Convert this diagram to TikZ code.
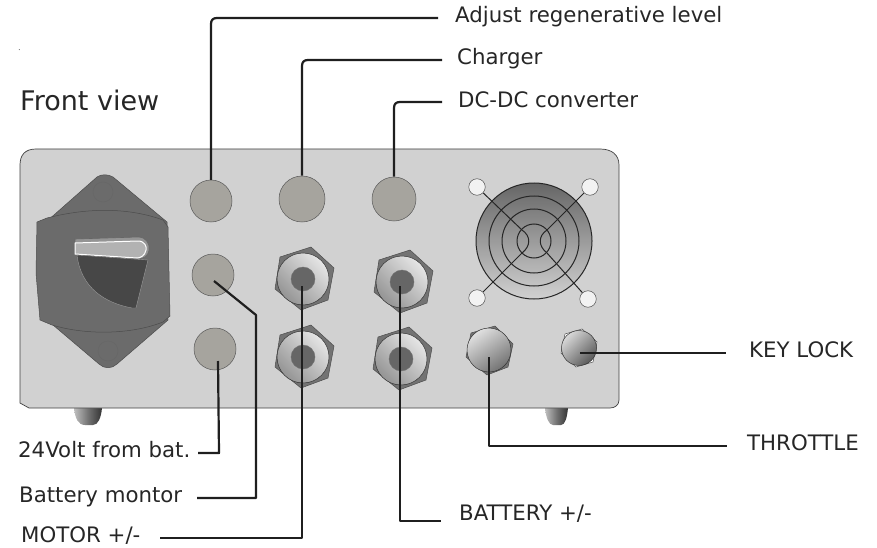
\documentclass[tikz,border=0pt]{standalone}
\usepackage{fontspec}
\setmainfont{DejaVu Sans}
\begin{document}
\begin{tikzpicture}[x=1pt,y=-1pt,
  lbl/.style={anchor=base west,inner sep=0pt,font=\fontsize{21.3}{24}\selectfont,text=black!85},
  conn/.style={draw=black!88,line width=2.2pt,line join=round},
  knob/.style={circle,draw=black!65,line width=.5pt,fill=knobgrey,inner sep=0pt,minimum size=#1},
  hexa/.style={draw=black!70,line width=.5pt,fill=black!55,line join=round},
  boss/.style={circle,draw=black!80,line width=.5pt,inner sep=0pt,minimum size=#1,top color=black!10,bottom color=black!42,shading angle=-45},
  core/.style={circle,draw=black!55,line width=.4pt,fill=black!60,inner sep=0pt,minimum size=#1},
  hole/.style={circle,draw=black!70,line width=.5pt,fill=black!5,inner sep=0pt,minimum size=16.5pt},
  ring/.style={draw=black!85,line width=1pt},
  foot/.style={left color=black!25,right color=black!80,middle color=black!55,draw=none}]
\definecolor{knobgrey}{RGB}{166,164,158}
\definecolor{panel}{RGB}{209,209,209}
\useasboundingbox (0,0) rectangle (877,548);
\fill[black!70] (19.3,49.7) circle (.5);
% feet
\path[foot] (74,408) .. controls (75,418) and (78,425) .. (85,425) -- (93,425) .. controls (98,425) and (101,418) .. (102,408) -- cycle;
\path[foot] (545,408) .. controls (546,418) and (549,425) .. (553,425) -- (561,425) .. controls (565,425) and (567,418) .. (568,408) -- cycle;
% housing
\draw[draw=black!75,line width=.7pt,fill=panel] (20,165) .. controls (20,155) and (25,149) .. (36,149) -- (600,149) .. controls (612,149) and (619,155) .. (619,165) -- (619,400) .. controls (619,405) and (615,408) .. (610,408) -- (29,408) -- (20,403) -- cycle;
% breaker
\draw[draw=black!70,line width=.5pt,fill=black!58,line join=round] (97,177) .. controls (101,174) and (108,174) .. (113,177) -- (167,222) -- (168,320) -- (117,364) .. controls (112,369) and (104,369) .. (99,364) -- (53,325) -- (46,222) -- cycle;
\draw[draw=black!60,line width=.4pt] (103,192) circle (10);
\draw[draw=black!60,line width=.4pt] (108,351) circle (10);
\draw[draw=black!70,line width=.5pt,fill=black!58,line join=round] (37,222) -- (47,218) .. controls (90,207) and (130,208) .. (163,220) -- (168,227) -- (170,316) -- (163,322) .. controls (130,335) and (85,335) .. (52,325) -- (40,320) -- (36,273) -- cycle;
\draw[draw=black!60,line width=.6pt,fill=black!42] (75,239) -- (138,237) .. controls (147,237) and (150,245) .. (149,250) .. controls (148,257) and (142,259) .. (138,259) -- (75,254) -- cycle;
\draw[draw=white,line width=1pt,fill=black!30] (75,243) -- (138,241) .. controls (145,241) and (147,247) .. (146,250) .. controls (145,256) and (140,258) .. (137,258) -- (75,254) -- cycle;
\draw[draw=black!40,line width=.4pt,fill=black!72] (77,255) -- (148,260) -- (136,308) -- (132,308) .. controls (105,303) and (81,288) .. (77,255) -- cycle;
% knobs
\node[knob=42pt] (k1) at (211,201) {};
\node[knob=42pt] (k2) at (213,275) {};
\node[knob=42pt] (k3) at (215,349) {};
\node[knob=46pt] (k4) at (302,199) {};
\node[knob=44pt] (k5) at (394,199) {};
% glands
\newcommand{\hexat}[2]{\draw[hexa] (#1+8,#2-32) -- (#1+31,#2-11) -- (#1+25,#2+21) -- (#1-2,#2+31) -- (#1-28,#2+10) -- (#1-23,#2-22) -- cycle;}
\hexat{303}{279}\hexat{303}{357}\hexat{402}{282}\hexat{401}{359}
\node[boss=52pt] (g1) at (303,279) {};
\node[boss=52pt] (g2) at (303,357) {};
\node[boss=52pt] (g3) at (402,282) {};
\node[boss=52pt] (g4) at (401,359) {};
\node[core=24pt] (c1) at (303,279) {};
\node[core=24pt] (c2) at (303,357) {};
\node[core=24pt] (c3) at (402,282) {};
\node[core=24pt] (c4) at (401,359) {};
% small glands
\draw[hexa] (495,326) -- (513,344) -- (508,367) -- (487,375) -- (466,357) -- (471,333) -- cycle;
\node[boss=44pt,top color=black!12,bottom color=black!55,shading angle=35] (g5) at (489,350) {};
\draw[draw=black!70,line width=.5pt,fill=white] (582,329) -- (597,342) -- (593,362) -- (576,367) -- (561,353) -- (565,334) -- cycle;
\node[boss=35pt,top color=black!15,bottom color=black!65,shading angle=45] (g6) at (579,348) {};
% fan
\coordinate (fc) at (534,241);
\shade[top color=black!60,bottom color=panel] (fc) circle (58);
\draw[ring] (fc) circle (58);
\draw[ring] (fc) circle (45);
\draw[ring] (fc) circle (32);
\draw[ring] (fc) circle (17);
\node[hole] (h1) at (477,187) {};
\node[hole] (h2) at (590,187) {};
\node[hole] (h3) at (477,298) {};
\node[hole] (h4) at (588,299) {};
\draw[ring] (h1) -- (522,230) .. controls (531,236) and (531,246) .. (522,253) -- (h3);
\draw[ring] (h2) -- (547,230) .. controls (538,236) and (538,246) .. (547,253) -- (h4);
% labels
\node[anchor=base west,inner sep=0pt,font=\fontsize{27}{30}\selectfont,text=black!85] (fv) at (20,111) {Front view};
\node[lbl] (t1) at (455,23) {Adjust regenerative level};
\node[lbl] (t2) at (457,65) {Charger};
\node[lbl] (t3) at (458,108) {DC-DC converter};
\node[lbl] (t4) at (749,357) {KEY LOCK};
\node[lbl] (t5) at (747,450) {THROTTLE};
\node[lbl] (t6) at (459,520) {BATTERY +/-};
\node[lbl] (t7) at (18,457) {24Volt from bat.};
\node[lbl] (t8) at (19,502) {Battery montor};
\node[lbl] (t9) at (21,542) {MOTOR +/-};
% connectors
\coordinate (e2) at (214,281);
\coordinate (e3) at (218,361);
\coordinate (e4) at (302,286);
\coordinate (e5) at (400,286);
\coordinate (e6) at (489,357);
\coordinate (e7) at (580,353);
\draw[conn] (k1.north) -- (211,24) .. controls (211,20) and (213,18) .. (217,18) -- (438,18);
\draw[conn] (k4.north) -- (302,66) .. controls (302,62) and (304,60) .. (308,60) -- (442,60);
\draw[conn] (k5.north) -- (394,108) .. controls (394,104) and (396,102) .. (400,102) -- (442,102);
\draw[conn] (e2) -- (256,315) -- (256,498) -- (197,498);
\draw[conn] (e3) -- (219,453) -- (198,453);
\draw[conn] (e4) -- (302,538) -- (160,538);
\draw[conn] (e5) -- (400,521) -- (441,521);
\draw[conn] (e6) -- (489,446) -- (727,446);
\draw[conn] (e7) -- (726,353);
\end{tikzpicture}
\end{document}
